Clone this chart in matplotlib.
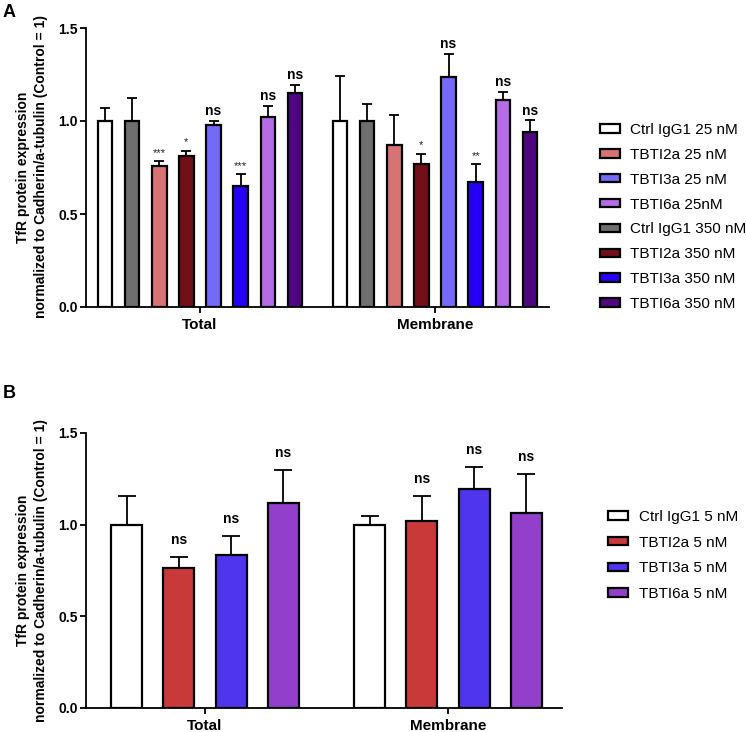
import numpy as np
import matplotlib
matplotlib.use('Agg')
import matplotlib.pyplot as plt

plt.rcParams['font.family'] = ['Liberation Sans', 'DejaVu Sans']

groups = ['Total', 'Membrane']

# panel A, series in legend order
labels_a = ['Ctrl IgG1 25 nM', 'TBTI2a 25 nM', 'TBTI3a 25 nM', 'TBTI6a 25nM',
            'Ctrl IgG1 350 nM', 'TBTI2a 350 nM', 'TBTI3a 350 nM', 'TBTI6a 350 nM']
colors_a = ['#ffffff', '#d97273', '#7669f7', '#b66ce6',
            '#6f6f6f', '#72101a', '#2400f7', '#510681']
slots_a = [0, 2, 4, 6, 1, 3, 5, 7]   # bar order inside each group
total_a = [1.0, 0.76, 0.98, 1.02, 1.0, 0.81, 0.65, 1.15]
total_a_err = [0.068, 0.023, 0.022, 0.062, 0.122, 0.030, 0.064, 0.044]
memb_a = [1.0, 0.87, 1.235, 1.115, 1.0, 0.77, 0.67, 0.94]
memb_a_err = [0.24, 0.163, 0.125, 0.042, 0.09, 0.052, 0.098, 0.063]
total_a_sig = ['', '***', 'ns', 'ns', '', '*', '***', 'ns']
memb_a_sig = ['', '', 'ns', 'ns', '', '*', '**', 'ns']

# panel B
labels_b = ['Ctrl IgG1 5 nM', 'TBTI2a 5 nM', 'TBTI3a 5 nM', 'TBTI6a 5 nM']
colors_b = ['#ffffff', '#c9393a', '#5035ef', '#923fcb']
total_b = [1.0, 0.765, 0.835, 1.12]
total_b_err = [0.155, 0.058, 0.104, 0.178]
memb_b = [1.0, 1.02, 1.195, 1.065]
memb_b_err = [0.046, 0.135, 0.12, 0.21]
total_b_sig = ['', 'ns', 'ns', 'ns']
memb_b_sig = ['', 'ns', 'ns', 'ns']

ylab = 'TfR protein expression\nnormalized to Cadherin/a-tubulin (Control = 1)'


def draw_panel(ax, labels, colors, slots, nslots, step, width, tot, tot_e, mem, mem_e,
               tot_s, mem_s, sig_pad, capsize):
    x = np.arange(len(groups))
    for i in range(len(labels)):
        off = (slots[i] - (nslots - 1) / 2) * step
        vals = [tot[i], mem[i]]
        errs = [tot_e[i], mem_e[i]]
        ax.bar(x + off, vals, width, color=colors[i], edgecolor='black',
               linewidth=1.6, label=labels[i], zorder=2,
               yerr=[[0, 0], errs], capsize=capsize,
               error_kw=dict(elinewidth=1.3, capthick=1.3, ecolor='black', zorder=1))
        for j, s in enumerate([tot_s[i], mem_s[i]]):
            if not s:
                continue
            if s == 'ns':
                kw = dict(fontsize=10, fontweight='bold')
            else:
                kw = dict(fontsize=8, color='#222222')
            ax.annotate(s, (x[j] + off, vals[j] + errs[j]), xytext=(0, sig_pad),
                        textcoords='offset points', ha='center', va='baseline', **kw)
    ax.set_ylim(0, 1.5)
    ax.set_yticks([0, 0.5, 1.0, 1.5])
    ax.set_yticklabels(['0.0', '0.5', '1.0', '1.5'])
    ax.set_xticks(x)
    ax.set_xticklabels(groups, fontsize=11, fontweight='bold')
    for lab in ax.get_yticklabels():
        lab.set_fontweight('bold')
        lab.set_fontsize(10)
    for side in ['top', 'right']:
        ax.spines[side].set_visible(False)
    for side in ['left', 'bottom']:
        ax.spines[side].set_linewidth(1.3)
    ax.tick_params(axis='y', length=4, width=1.3, pad=2)
    ax.tick_params(axis='x', length=4, width=1.3, pad=4)


fig = plt.figure(figsize=(7.46, 7.32), dpi=100)
W, H = 746, 732

axa = fig.add_axes([86 / W, 1 - 307 / H, (549 - 86) / W, (307 - 28) / H])
draw_panel(axa, labels_a, colors_a, slots_a, 8, 0.1153, 0.061,
           total_a, total_a_err, memb_a, memb_a_err, total_a_sig, memb_a_sig, 4, 3.6)
axa.set_xlim(-0.485, 1.485)
axa.legend(loc='upper left', bbox_to_anchor=(600 / W, 1 - 123 / H),
           bbox_transform=fig.transFigure, frameon=False, fontsize=11,
           handlelength=1.3, handleheight=0.46, handletextpad=0.65,
           labelspacing=0.71, borderpad=0, borderaxespad=0)

axb = fig.add_axes([86 / W, 1 - 707.7 / H, (562 - 86) / W, (707.7 - 433) / H])
draw_panel(axb, labels_b, colors_b, [0, 1, 2, 3], 4, 0.215, 0.128,
           total_b, total_b_err, memb_b, memb_b_err, total_b_sig, memb_b_sig, 9.5, 6.5)
axb.set_xlim(-0.49, 1.469)
axb.legend(loc='upper left', bbox_to_anchor=(608 / W, 1 - 510 / H),
           bbox_transform=fig.transFigure, frameon=False, fontsize=11,
           handlelength=1.3, handleheight=0.46, handletextpad=0.72,
           labelspacing=0.76, borderpad=0, borderaxespad=0)

fig.text(32 / W, 1 - 167 / H, ylab, rotation=90, ha='center', va='center',
         fontsize=10, fontweight='bold', multialignment='center', linespacing=1.45)
fig.text(32 / W, 1 - 570 / H, ylab, rotation=90, ha='center', va='center',
         fontsize=10, fontweight='bold', multialignment='center', linespacing=1.45)

fig.text(3 / W, 1 - 4 / H, 'A', fontsize=13, fontweight='bold', va='top', ha='left')
fig.text(3 / W, 1 - 385 / H, 'B', fontsize=13, fontweight='bold', va='top', ha='left')

fig.savefig('out.png', dpi=100)
